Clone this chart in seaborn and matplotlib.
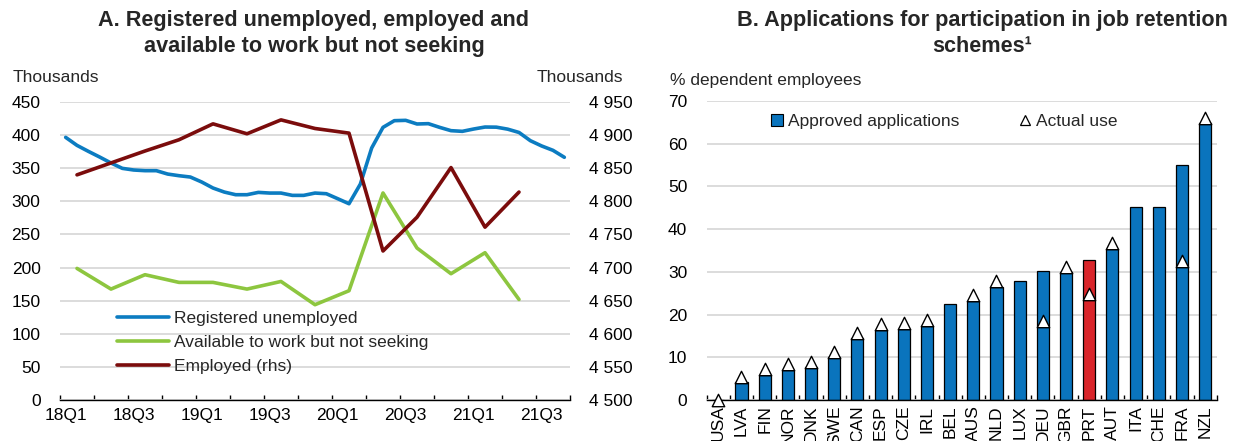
import numpy as np
import pandas as pd
import matplotlib
matplotlib.use("Agg")
import matplotlib.pyplot as plt
from matplotlib.lines import Line2D
from matplotlib.ticker import FuncFormatter, FixedLocator
import seaborn as sns

sns.set_theme(style="white")
plt.rcParams["font.family"] = ["Liberation Sans", "DejaVu Sans"]

FS = 12.5
BLUE = "#0C7CC1"
GREEN = "#8DC63F"
DARKRED = "#7B0C0C"
BAR_BLUE = "#0A74BD"
PRT_RED = "#D9252A"
GRID = "#D9D9D9"

# ---- panel A data (monthly: Jan 2018 - Sep 2021, quarterly: 18Q1 - 21Q2)
unemployed = [396.6, 384.5, 375.5, 366.9, 357.9, 349.8, 347.3, 346.3, 346.3,
              341.2, 338.7, 336.7, 329.2, 320.1, 314.0, 310.0, 310.0, 313.5,
              312.5, 312.5, 309.0, 309.0, 312.5, 311.5, 304.0, 296.4, 326.0,
              380.5, 411.7, 421.8, 422.3, 416.8, 417.3, 411.7, 406.7, 405.7,
              409.2, 412.2, 412.0, 409.0, 404.0, 391.6, 383.6, 377.0, 366.5]
not_seeking = [198.7, 167.5, 189.2, 177.6, 177.6, 167.5, 179.0, 143.9, 165.0,
               312.6, 229.5, 190.7, 222.4, 151.8]
employed = [4840, 4858, 4876, 4893, 4917, 4902, 4923, 4910, 4903, 4725, 4776,
            4851, 4761, 4814]
quarter_labels = ["18Q1", "18Q3", "19Q1", "19Q3", "20Q1", "20Q3", "21Q1", "21Q3"]

# ---- panel B data
countries = ["USA", "LVA", "FIN", "NOR", "DNK", "SWE", "CAN", "ESP", "CZE",
             "IRL", "BEL", "AUS", "NLD", "LUX", "DEU", "GBR", "PRT", "AUT",
             "ITA", "CHE", "FRA", "NZL"]
approved = [0.0, 4.1, 5.9, 7.0, 7.7, 10.0, 14.5, 16.4, 16.6, 17.3, 22.4, 23.2,
            26.4, 27.8, 30.2, 30.0, 32.8, 35.3, 45.1, 45.3, 54.9, 64.8]
actual_use = [0.0, 5.5, 7.2, 8.4, 9.0, 11.3, 15.8, 17.7, 18.0, 18.7, np.nan,
              24.5, 27.8, np.nan, 18.5, 31.2, 24.8, 36.7, np.nan, np.nan, 32.6,
              66.1]

W, H = 1242, 441
fig = plt.figure(figsize=(W / 100, H / 100), dpi=100)
axA = fig.add_axes([60 / W, 1 - 400 / H, 510 / W, 298 / H])
axB = fig.add_axes([706.7 / W, 1 - 400 / H, 510 / W, 299 / H])

# ============================================================================
# Panel A
# ============================================================================
monthly = pd.DataFrame({"t": np.arange(len(unemployed)) + 0.5,
                        "unemployed": unemployed})
quarterly = pd.DataFrame({"t": np.arange(len(employed)) * 3 + 1.5,
                          "not_seeking": not_seeking, "employed": employed})

sns.lineplot(data=monthly, x="t", y="unemployed", ax=axA, color=BLUE, lw=2.6)
sns.lineplot(data=quarterly, x="t", y="not_seeking", ax=axA, color=GREEN,
             lw=2.6)
ax2 = axA.twinx()
sns.lineplot(data=quarterly, x="t", y="employed", ax=ax2, color=DARKRED,
             lw=2.6)

axA.set_xlim(0, 45)
axA.set_ylim(0, 450)
ax2.set_ylim(4500, 4950)
axA.set_yticks(range(0, 451, 50))
ax2.set_yticks(range(4500, 4951, 50))
ax2.yaxis.set_major_formatter(
    FuncFormatter(lambda v, _: f"{v:,.0f}".replace(",", " ")))
axA.yaxis.grid(True, color=GRID, lw=1.3)
axA.set_axisbelow(True)
for a in (axA, ax2):
    a.set_xlabel("")
    a.set_ylabel("")
    for s in ["left", "right", "top"]:
        a.spines[s].set_visible(False)
ax2.spines["bottom"].set_visible(False)
axA.spines["bottom"].set_color("black")
axA.spines["bottom"].set_linewidth(1.0)

axA.tick_params(axis="y", length=0, pad=14, labelsize=FS, colors="black")
ax2.tick_params(axis="y", length=0, pad=13.5, labelsize=FS, colors="black")
axA.set_xticks(np.arange(0, 46, 3), minor=True)
axA.set_xticks(np.arange(0, 45, 6) + 0.5)
axA.set_xticklabels(quarter_labels)
axA.tick_params(axis="x", which="major", length=0, pad=6, labelsize=FS,
                colors="black", bottom=True)
axA.tick_params(axis="x", which="minor", direction="in", length=3.6,
                width=1.0, color="black", bottom=True)

handles = [Line2D([], [], color=BLUE, lw=2.6),
           Line2D([], [], color=GREEN, lw=2.6),
           Line2D([], [], color=DARKRED, lw=2.6)]
ax2.legend(handles, ["Registered unemployed",
                     "Available to work but not seeking", "Employed (rhs)"],
           loc="upper left", bbox_to_anchor=(117 / W, 1 - 311 / H),
           bbox_transform=fig.transFigure, frameon=False, fontsize=FS,
           handlelength=3.0, handletextpad=0.3, labelspacing=0.5,
           borderpad=0, borderaxespad=0)

# ============================================================================
# Panel B
# ============================================================================
jrs = pd.DataFrame({"country": countries, "approved": approved,
                    "actual": actual_use})
palette = {c: (PRT_RED if c == "PRT" else BAR_BLUE) for c in countries}
sns.barplot(data=jrs, x="country", y="approved", hue="country",
            palette=palette, legend=False, width=0.52, saturation=1,
            edgecolor="black", linewidth=0.9, ax=axB)
sns.scatterplot(data=jrs, x="country", y="actual", marker="^", s=80,
                color="white", edgecolor="black", linewidth=1.0, ax=axB,
                zorder=4, clip_on=False, legend=False)

axB.set_xlim(-0.5, len(countries) - 0.5)
axB.set_ylim(0, 70)
axB.set_yticks(range(0, 71, 10))
axB.yaxis.grid(True, color=GRID, lw=1.3)
axB.set_axisbelow(True)
axB.set_xlabel("")
axB.set_ylabel("")
for s in ["left", "right", "top"]:
    axB.spines[s].set_visible(False)
axB.spines["bottom"].set_color("black")
axB.spines["bottom"].set_linewidth(1.0)
axB.xaxis.set_minor_locator(FixedLocator(np.arange(len(countries) + 1) - 0.5))
axB.tick_params(axis="y", length=0, pad=14, labelsize=FS, colors="black")
axB.tick_params(axis="x", which="major", length=0, pad=4, labelsize=FS,
                rotation=90, colors="black")
axB.tick_params(axis="x", which="minor", direction="in", length=3.6,
                width=1.0, color="black", bottom=True)

leg_handles = [Line2D([], [], ls="none", marker="s", ms=8, mfc=BAR_BLUE,
                      mec="black", mew=0.8),
               Line2D([], [], ls="none", marker="^", ms=7, mfc="white",
                      mec="black", mew=0.9)]
axB.legend(leg_handles, ["Approved applications", "Actual use"], ncol=2,
           loc="center left", bbox_to_anchor=(771 / W, 1 - 121 / H),
           bbox_transform=fig.transFigure, frameon=False, fontsize=FS,
           handlelength=0.7, handletextpad=0.3, columnspacing=3.4,
           borderpad=0, borderaxespad=0)

# ---- titles and axis captions
fig.text(314 / W, 1 - 33.5 / H,
         "A. Registered unemployed, employed and\navailable to work but not seeking",
         ha="center", va="center", fontsize=15.6, fontweight="bold",
         linespacing=1.3)
fig.text(982 / W, 1 - 33.5 / H,
         "B. Applications for participation in job retention\nschemes\u00b9",
         ha="center", va="center", fontsize=15.6, fontweight="bold",
         linespacing=1.3)
fig.text(13 / W, 1 - 77 / H, "Thousands", ha="left", va="center", fontsize=FS)
fig.text(537 / W, 1 - 77 / H, "Thousands", ha="left", va="center", fontsize=FS)
fig.text(670 / W, 1 - 80 / H, "% dependent employees", ha="left", va="center",
         fontsize=FS)

fig.savefig("out.png", dpi=100)
